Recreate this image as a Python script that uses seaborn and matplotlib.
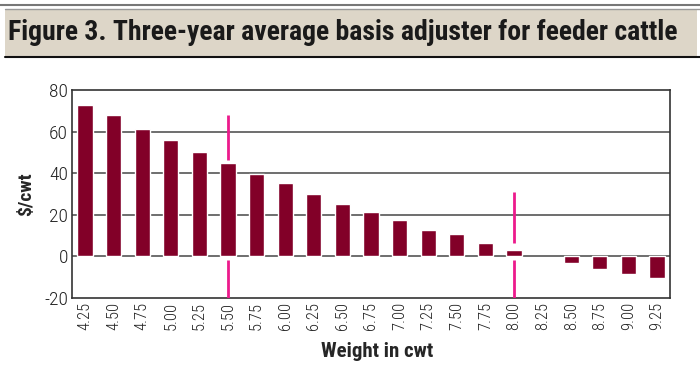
import pandas as pd
import matplotlib
matplotlib.use("Agg")
import matplotlib.pyplot as plt
import seaborn as sns
from matplotlib import font_manager
from matplotlib.patches import Rectangle
from matplotlib.lines import Line2D

weights = ["4.25", "4.50", "4.75", "5.00", "5.25", "5.50", "5.75", "6.00", "6.25",
           "6.50", "6.75", "7.00", "7.25", "7.50", "7.75", "8.00", "8.25", "8.50",
           "8.75", "9.00", "9.25"]
basis = [73.0, 68.1, 61.4, 56.1, 50.3, 44.7, 39.8, 35.4, 30.1,
         25.3, 21.5, 17.6, 12.8, 10.9, 6.6, 3.2, float("nan"), -3.4,
         -6.1, -8.6, -10.4]

# pink markers at 5.50 and 8.00
marker_weights = ["5.50", "8.00"]
marker_upper = [(46.5, 68.1), (6.4, 30.8)]
marker_lower = [(-20, -1.6), (-20, -1.6)]

df = pd.DataFrame({"Weight": weights, "Basis": basis})

names = {f.name for f in font_manager.fontManager.ttflist}
narrow = [n for n in ["Roboto Condensed", "Liberation Sans Narrow", "DejaVu Sans Condensed"] if n in names]
fam = narrow + ["Liberation Sans", "DejaVu Sans"]

sns.set_style("white")
plt.rcParams["font.family"] = fam
plt.rcParams["axes.unicode_minus"] = False

fig = plt.figure(figsize=(7, 3.65), dpi=100)
ax = fig.add_axes([0.103, 0.1836, 0.854, 0.5698])

sns.barplot(data=df, x="Weight", y="Basis", color="#820028", width=0.53,
            saturation=1, ax=ax, zorder=3)

for w, (u0, u1), (l0, l1) in zip(marker_weights, marker_upper, marker_lower):
    xi = weights.index(w)
    ax.vlines(xi, u0, u1, color="#ec1a8c", lw=2, zorder=4)
    ax.vlines(xi, l0, l1, color="#ec1a8c", lw=2, zorder=4)

ax.set_ylim(-20, 80)
ax.set_xlim(-0.45, len(weights) - 0.55)
ax.set_yticks([-20, 0, 20, 40, 60, 80])
for y in [0, 20, 40, 60]:
    ax.axhline(y, color="#555555", lw=1.2, zorder=1)
for s in ax.spines.values():
    s.set_color("#333333")
    s.set_linewidth(1.2)

ax.tick_params(axis="y", labelsize=14, pad=3, length=0, colors="#222222")
ax.tick_params(axis="x", labelsize=12, rotation=90, pad=3, length=0, colors="#222222")
for lab in ax.get_xticklabels() + ax.get_yticklabels():
    lab.set_fontweight("light")
ax.set_ylabel("$/cwt", fontsize=14, fontweight="bold", labelpad=6)
ax.set_xlabel("Weight in cwt", fontsize=15, fontweight="bold")
ax.xaxis.set_label_coords(0.51, -0.21)

# title band
fig.patches.append(Rectangle((5 / 700, 1 - 57 / 365), 692 / 700, 48 / 365,
                             transform=fig.transFigure, facecolor="#ddd6c8",
                             edgecolor="none", zorder=0))
fig.lines.append(Line2D([0, 1], [1 - 4.5 / 365] * 2, transform=fig.transFigure,
                        color="#777777", lw=1.5))
fig.lines.append(Line2D([5 / 700, 1], [1 - 9 / 365] * 2, transform=fig.transFigure,
                        color="#999999", lw=1))
fig.lines.append(Line2D([5 / 700, 1], [1 - 57 / 365] * 2, transform=fig.transFigure,
                        color="#111111", lw=1.5))
fig.text(8 / 700, 1 - 33 / 365, "Figure 3. Three-year average basis adjuster for feeder cattle",
         fontsize=20 if narrow else 16, fontweight="heavy", color="#1a1a1a",
         va="center", ha="left")

fig.savefig("out.png", dpi=100)
